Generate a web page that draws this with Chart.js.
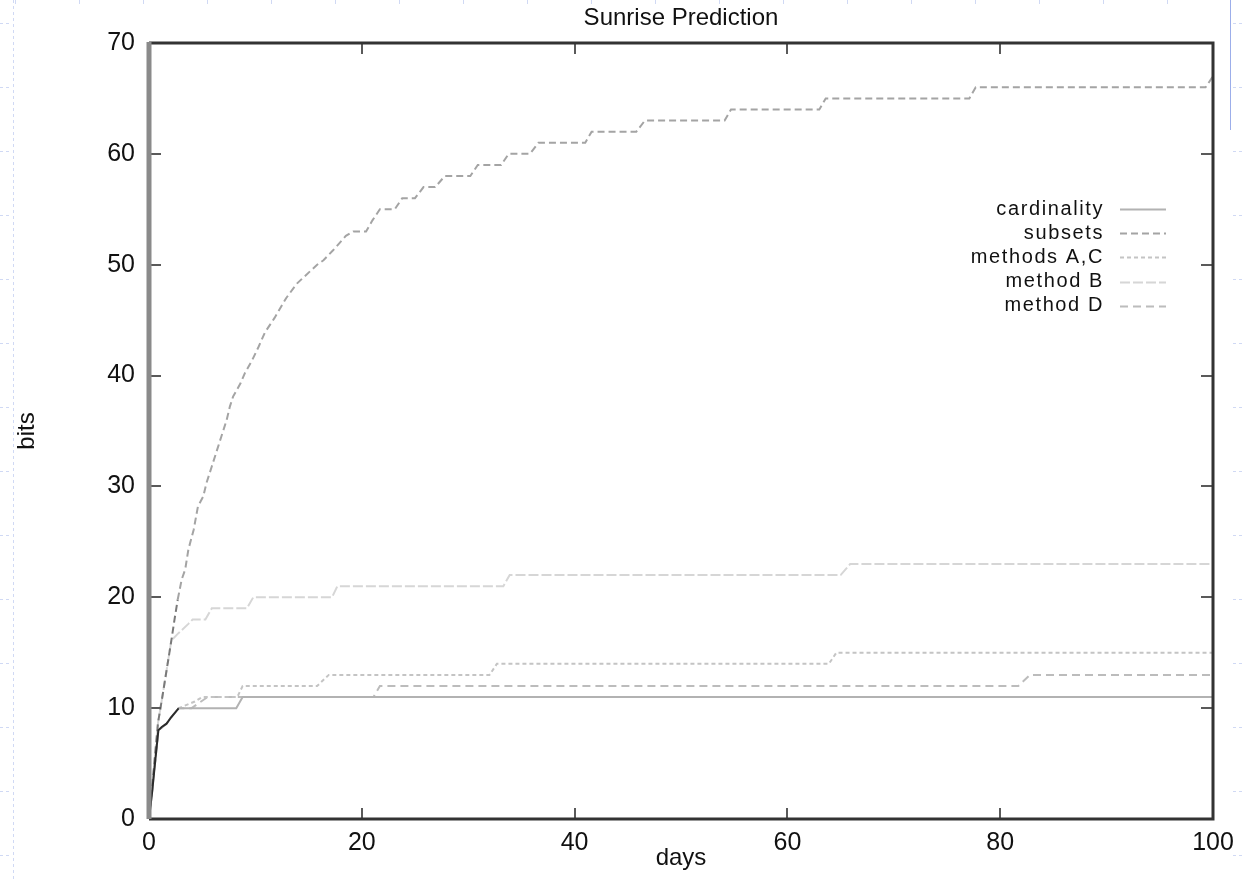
<!DOCTYPE html>
<html><head><meta charset="utf-8">
<script src="https://cdn.jsdelivr.net/npm/chart.js@4/dist/chart.umd.min.js"></script>
<style>html,body{margin:0;padding:0;background:#fff;}#wrap{width:1244px;height:882px;}</style>
</head><body><div id="wrap"><canvas id="c" width="1244" height="882"></canvas></div>
<script>
// ---------- data ----------
const chartTitle = 'Sunrise Prediction';
const xAxisTitle = 'days';
const yAxisTitle = 'bits';
const xTickValues = [0, 20, 40, 60, 80, 100];
const yTickValues = [0, 10, 20, 30, 40, 50, 60, 70];
const seriesNames = ['cardinality', 'subsets', 'methods A,C', 'method B', 'method D'];

const cardinalityDays = [0, 0.3, 0.56, 0.88, 1.2, 1.65, 2.1, 2.8, 8.2, 8.8, 100];
const cardinalityBits = [0, 2.5, 5, 8, 8.3, 8.6, 9.2, 10, 10, 11, 11];

const subsetsDays = [0, 0.4, 0.85, 1.2, 1.8, 2.1, 2.4, 2.7, 3.07, 3.4, 3.7, 4.2, 4.6, 5.1, 5.4, 5.9, 6.4, 6.8, 7.3, 7.6, 7.9, 8.6, 9.0, 9.7, 10.3, 10.9, 11.8, 12.9, 13.9, 15.8, 16.4, 17.3, 18.5, 19.2, 20.4, 21.0, 21.7, 23.1, 23.8, 25.0, 25.8, 26.9, 27.8, 30.2, 30.9, 33.1, 33.8, 35.8, 36.6, 41.0, 41.6, 45.8, 46.6, 54.1, 54.7, 63.0, 63.6, 77.1, 77.7, 99.3, 100];
const subsetsBits = [0, 4, 8.7, 10.7, 14.3, 16.1, 18.0, 19.8, 21.6, 22.5, 24.3, 26.1, 28.2, 29.1, 30.3, 31.8, 33.3, 34.5, 36.0, 37.2, 38.1, 39.3, 40.2, 41.4, 42.6, 43.9, 45.2, 47.0, 48.3, 50.0, 50.4, 51.3, 52.6, 53, 53, 54, 55, 55, 56, 56, 57, 57, 58, 58, 59, 59, 60, 60, 61, 61, 62, 62, 63, 63, 64, 64, 65, 65, 66, 66, 67];

const methodsACDays = [0, 0.3, 0.56, 0.88, 1.65, 2.1, 2.8, 4.3, 5.0, 8.3, 8.8, 15.8, 16.9, 32.0, 32.7, 63.9, 64.6, 100];
const methodsACBits = [0, 2.5, 5, 8, 8.6, 9.2, 10, 10.6, 11, 11, 12, 12, 13, 13, 14, 14, 15, 15];

const methodBDays = [0, 0.4, 0.85, 1.2, 1.8, 2.1, 2.7, 3.7, 4.1, 5.3, 5.9, 9.2, 9.8, 17.2, 17.7, 33.3, 33.9, 65.0, 65.9, 100];
const methodBBits = [0, 4, 8.7, 10.7, 14.3, 16.1, 16.7, 17.6, 18, 18, 19, 19, 20, 20, 21, 21, 22, 22, 23, 23];

const methodDDays = [0, 0.3, 0.56, 0.88, 1.65, 2.1, 2.8, 4.0, 5.5, 21.1, 21.7, 81.7, 82.8, 100];
const methodDBits = [0, 2.5, 5, 8, 8.6, 9.2, 10, 10, 11, 11, 12, 12, 13, 13];

// ---------- styles ----------
const FONT = "'Liberation Sans', Arial, Helvetica, sans-serif";
const seriesStyles = [
  {color: '#b2b2b2', dash: [], early: '#2a2a2a'},
  {color: '#a4a4a4', dash: [7, 4], early: '#7a7a7a'},
  {color: '#c4c4c4', dash: [4, 3], early: null},
  {color: '#d6d6d6', dash: [10, 3], early: null},
  {color: '#bcbcbc', dash: [8, 5], early: null}
];
const seriesDays = [cardinalityDays, subsetsDays, methodsACDays, methodBDays, methodDDays];
const seriesBits = [cardinalityBits, subsetsBits, methodsACBits, methodBBits, methodDBits];

const datasets = seriesNames.map((name, i) => ({
  label: name,
  data: seriesDays[i].map((d, k) => ({x: d, y: seriesBits[i][k]})),
  borderColor: seriesStyles[i].color,
  borderDash: seriesStyles[i].dash,
  borderWidth: 2,
  pointRadius: 0,
  tension: 0,
  fill: false,
  segment: seriesStyles[i].early ? {
    borderColor: c => (c.p1.parsed.x <= 2.8 ? seriesStyles[i].early : undefined)
  } : undefined
}));

// background decorations (page guides of the original slide)
const pageDecor = {
  id: 'pageDecor',
  beforeDraw(chart) {
    const ctx = chart.ctx;
    ctx.save();
    ctx.fillStyle = '#fff';
    ctx.fillRect(0, 0, chart.width, chart.height);
    ctx.strokeStyle = 'rgba(150,170,230,0.45)';
    ctx.lineWidth = 1;
    for (let x = 15; x < 1230; x += 64) { ctx.beginPath(); ctx.moveTo(x + 0.5, 0); ctx.lineTo(x + 0.5, 4); ctx.stroke(); }
    ctx.setLineDash([3, 3]);
    for (let y = 23; y < 882; y += 64) {
      ctx.beginPath(); ctx.moveTo(0, y + 0.5); ctx.lineTo(12, y + 0.5); ctx.stroke();
      ctx.beginPath(); ctx.moveTo(1233, y + 0.5); ctx.lineTo(1244, y + 0.5); ctx.stroke();
    }
    ctx.beginPath(); ctx.moveTo(13.5, 0); ctx.lineTo(13.5, 882); ctx.stroke();
    ctx.setLineDash([]);
    ctx.strokeStyle = 'rgba(90,120,220,0.6)';
    ctx.beginPath(); ctx.moveTo(1230.5, 0); ctx.lineTo(1230.5, 130); ctx.stroke();
    ctx.restore();
  }
};

// frame, inward ticks (gnuplot style) and title centred over the plot area
const frameTicks = {
  id: 'frameTicks',
  afterDatasetsDraw(chart) {
    const {ctx, chartArea: a, scales: {x, y}} = chart;
    ctx.save();
    ctx.strokeStyle = '#5a5a5a';
    ctx.lineWidth = 2;
    x.ticks.forEach(t => {
      if (t.value <= x.min || t.value >= x.max) return;
      const px = Math.round(x.getPixelForValue(t.value));
      ctx.beginPath(); ctx.moveTo(px, a.bottom); ctx.lineTo(px, a.bottom - 11); ctx.stroke();
      ctx.beginPath(); ctx.moveTo(px, a.top); ctx.lineTo(px, a.top + 11); ctx.stroke();
    });
    y.ticks.forEach(t => {
      if (t.value <= y.min || t.value >= y.max) return;
      const py = Math.round(y.getPixelForValue(t.value));
      ctx.beginPath(); ctx.moveTo(a.left, py); ctx.lineTo(a.left + 12, py); ctx.stroke();
      ctx.beginPath(); ctx.moveTo(a.right, py); ctx.lineTo(a.right - 12, py); ctx.stroke();
    });
    ctx.strokeStyle = '#333';
    ctx.lineWidth = 3;
    ctx.beginPath(); ctx.moveTo(a.left, a.top); ctx.lineTo(a.right, a.top); ctx.lineTo(a.right, a.bottom); ctx.lineTo(a.left, a.bottom); ctx.stroke();
    ctx.strokeStyle = '#8a8a8a';
    ctx.lineWidth = 5;
    ctx.beginPath(); ctx.moveTo(a.left, a.top - 1); ctx.lineTo(a.left, a.bottom); ctx.stroke();
    // title
    ctx.fillStyle = '#111';
    ctx.font = "24px " + FONT;
    ctx.textAlign = 'center';
    ctx.textBaseline = 'middle';
    ctx.fillText(chartTitle, (a.left + a.right) / 2, 18);
    ctx.restore();
  }
};

// legend drawn inside the plot, text right-aligned, sample to the right
const insideLegend = {
  id: 'insideLegend',
  afterDraw(chart) {
    const ctx = chart.ctx;
    ctx.save();
    ctx.font = "20px " + FONT;
    ctx.fillStyle = '#111';
    ctx.textAlign = 'right';
    ctx.textBaseline = 'middle';
    if ('letterSpacing' in ctx) ctx.letterSpacing = '1.6px';
    chart.data.datasets.forEach((ds, i) => {
      const yy = 209 + i * 24.2;
      ctx.fillText(ds.label, 1104, yy);
      ctx.strokeStyle = ds.borderColor;
      ctx.lineWidth = 2;
      ctx.setLineDash(ds.borderDash || []);
      ctx.beginPath(); ctx.moveTo(1120, Math.round(yy) + 0.5); ctx.lineTo(1166, Math.round(yy) + 0.5); ctx.stroke();
      ctx.setLineDash([]);
    });
    ctx.restore();
  }
};

new Chart(document.getElementById('c'), {
  type: 'line',
  data: {datasets},
  options: {
    responsive: false,
    animation: false,
    devicePixelRatio: 1,
    layout: {padding: {top: 43, right: 31, bottom: 0, left: 0}},
    plugins: {
      legend: {display: false},
      tooltip: {enabled: false},
      title: {display: false}
    },
    scales: {
      x: {
        type: 'linear', min: 0, max: 100,
        afterBuildTicks: s => { s.ticks = xTickValues.map(v => ({value: v})); },
        afterFit: s => { s.height = 63; },
        grid: {display: false, drawTicks: false},
        border: {display: false},
        ticks: {color: '#111', padding: 9.5, maxRotation: 0, font: {family: FONT, size: 25}},
        title: {display: true, text: xAxisTitle, color: '#111', font: {family: FONT, size: 24}, padding: {top: 0, bottom: 9}}
      },
      y: {
        type: 'linear', min: 0, max: 70,
        afterBuildTicks: s => { s.ticks = yTickValues.map(v => ({value: v})); },
        afterFit: s => { s.width = 149; },
        grid: {display: false, drawTicks: false},
        border: {display: false},
        ticks: {color: '#111', padding: 14, font: {family: FONT, size: 25}},
        title: {display: true, text: yAxisTitle, color: '#111', font: {family: FONT, size: 24}, padding: {top: 13, bottom: 0}}
      }
    }
  },
  plugins: [pageDecor, frameTicks, insideLegend]
});
</script>
</body></html>
